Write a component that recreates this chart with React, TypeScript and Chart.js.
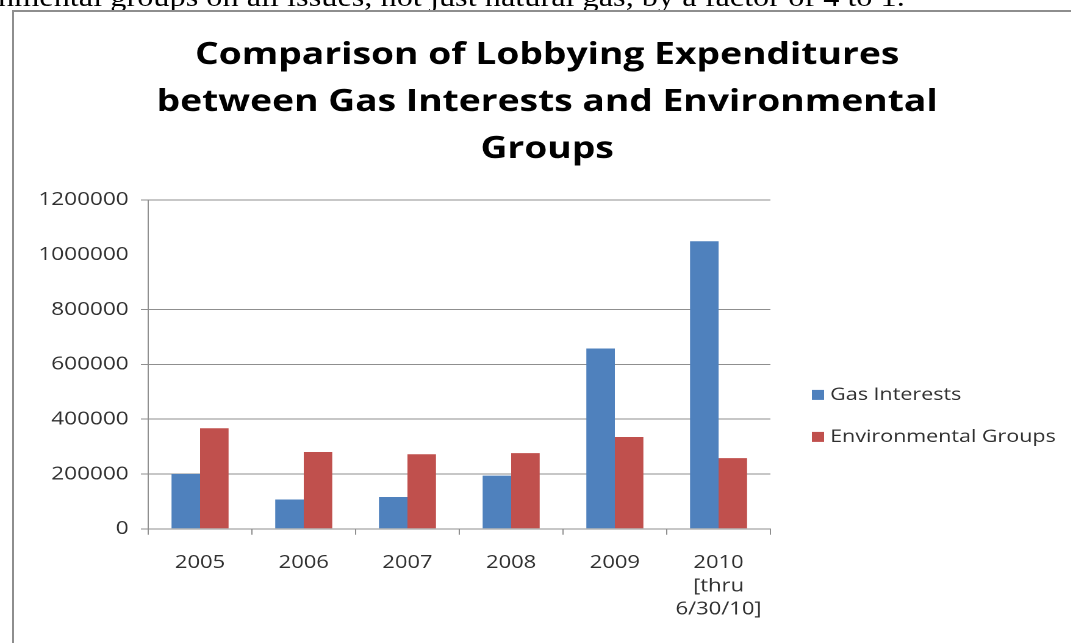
import React, { useEffect, useRef } from 'react';
import { Chart, registerables } from 'chart.js';

Chart.register(...registerables);

// ---- data ----
const categories: (string | string[])[] = ['2005', '2006', '2007', '2008', '2009', ['2010', '[thru', '6/30/10]']];
const gasInterests = [200000, 107000, 116000, 194000, 658000, 1049000];
const environmentalGroups = [367000, 280000, 272000, 276000, 335000, 258000];
const yTickValues = [0, 200000, 400000, 600000, 800000, 1000000, 1200000];
const hiddenGridValues = [1000000];
const seriesLabels = ['Gas Interests', 'Environmental Groups'];
const seriesColors = ['#4F81BD', '#C0504D'];
const titleLines = ['Comparison of Lobbying Expenditures', 'between Gas Interests and Environmental', 'Groups'];
const introText = 'nmental groups on all issues, not just natural gas, by a factor of 4 to 1.';

// ---- layout (the reference screenshot is horizontally stretched) ----
const SX = 1.22;
const LW = 874;
const LH = 640;
const GRID = '#8f8f8f';
const TEXT = '#303030';
const FONT = '"Open Sans", sans-serif';
const gridColors = yTickValues.map((v) => (hiddenGridValues.includes(v) ? 'rgba(255,255,255,0)' : GRID));
const gridWidths = yTickValues.map((v) => (hiddenGridValues.includes(v) ? 0 : 1));

const sideLegend = {
  id: 'sideLegend',
  afterDraw(chart: any) {
    const { ctx, chartArea } = chart;
    ctx.save();
    ctx.font = `17.6px ${FONT}`;
    ctx.textBaseline = 'middle';
    ctx.textAlign = 'left';
    chart.data.datasets.forEach((ds: any, i: number) => {
      const y = chartArea.top + 195 + i * 42;
      const x = chartArea.right + 34;
      ctx.fillStyle = ds.backgroundColor;
      ctx.fillRect(x, y - 5, 10, 10);
      ctx.fillStyle = TEXT;
      ctx.fillText(ds.label, x + 15, y);
    });
    ctx.restore();
  },
};

export default function App() {
  const canvasRef = useRef<HTMLCanvasElement | null>(null);

  useEffect(() => {
    document.documentElement.style.overflow = 'hidden';
    document.body.style.overflow = 'hidden';
    const canvas = canvasRef.current;
    if (!canvas) return;
    const chart = new Chart(canvas, {
      type: 'bar',
      data: {
        labels: categories as any,
        datasets: [
          {
            label: seriesLabels[0],
            data: gasInterests,
            backgroundColor: seriesColors[0],
            borderWidth: 0,
            categoryPercentage: 0.55,
            barPercentage: 1,
            yAxisID: 'y',
          },
          {
            label: seriesLabels[1],
            data: environmentalGroups,
            backgroundColor: seriesColors[1],
            borderWidth: 0,
            categoryPercentage: 0.55,
            barPercentage: 1,
            yAxisID: 'y',
          },
        ],
      },
      options: {
        animation: false,
        responsive: true,
        maintainAspectRatio: false,
        devicePixelRatio: 2,
        layout: { padding: { top: 0, left: 0, right: 0, bottom: 14.4 } },
        plugins: {
          legend: { display: false },
          tooltip: { enabled: false },
          title: {
            display: true,
            text: titleLines,
            color: '#000',
            font: { family: FONT, size: 30.5, weight: 'bold', lineHeight: 1.54 },
            padding: { top: 20, bottom: 27 },
          },
        },
        scales: {
          x: {
            grid: {
              offset: true,
              drawOnChartArea: false,
              drawTicks: true,
              tickLength: 6,
              color: GRID,
            },
            border: { color: GRID },
            ticks: {
              color: TEXT,
              font: { family: FONT, size: 18, lineHeight: 1.3 },
              padding: 16.3,
              maxRotation: 0,
              minRotation: 0,
              autoSkip: false,
            },
          },
          y: {
            type: 'linear',
            min: 0,
            max: 1200000,
            afterBuildTicks: (s: any) => {
              s.ticks = yTickValues.map((v) => ({ value: v }));
            },
            afterFit: (s: any) => {
              s.width = 110;
            },
            grid: {
              tickLength: 6,
              color: gridColors,
              lineWidth: gridWidths,
            },
            border: { color: GRID },
            ticks: {
              color: TEXT,
              font: { family: FONT, size: 18.5 },
              padding: 10,
              callback: (v: any) => String(v),
            },
          },
          yR: {
            type: 'linear',
            position: 'right',
            display: true,
            grid: { display: false },
            border: { display: false },
            ticks: { display: false },
            afterFit: (s: any) => {
              s.width = 254;
            },
          },
        },
      } as any,
      plugins: [sideLegend],
    });
    return () => chart.destroy();
  }, []);

  return (
    <div>
      <div
        style={{
          position: 'fixed',
          left: -2,
          top: -16,
          fontFamily: '"Liberation Serif", "Times New Roman", serif',
          fontSize: 26.5,
          lineHeight: '26px',
          whiteSpace: 'nowrap',
          color: '#000',
          transform: `scaleX(${SX})`,
          transformOrigin: '0 0',
        }}
      >
        {introText}
      </div>
      <div
        style={{
          position: 'fixed',
          left: 12,
          top: 10,
          width: 1100,
          height: 700,
          border: '2px solid #8e8e8e',
          background: '#fff',
          overflow: 'hidden',
        }}
      >
        <div
          style={{
            position: 'absolute',
            left: 0,
            top: 0,
            width: LW,
            height: LH,
            transform: `scaleX(${SX})`,
            transformOrigin: '0 0',
          }}
        >
          <canvas ref={canvasRef} />
        </div>
      </div>
    </div>
  );
}
